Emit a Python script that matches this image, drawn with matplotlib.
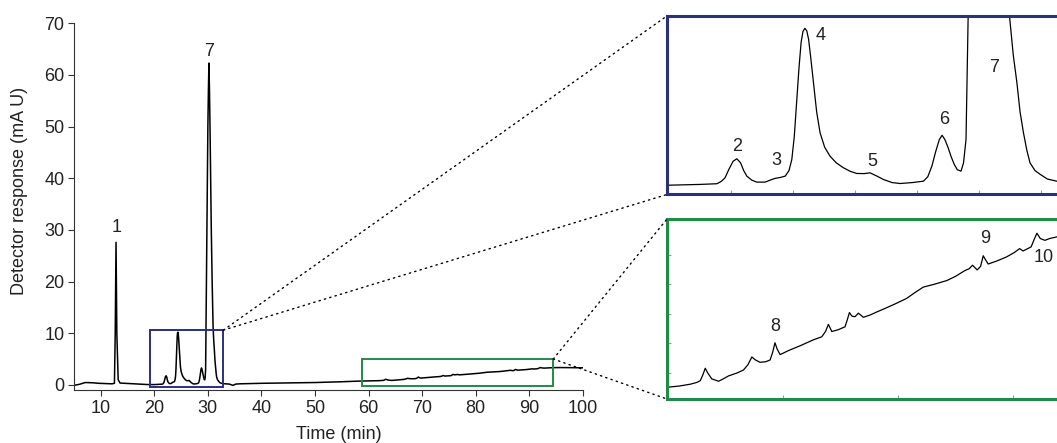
import matplotlib
matplotlib.use('Agg')
import matplotlib.pyplot as plt
from matplotlib.patches import Rectangle, ConnectionPatch

plt.rcParams['font.family'] = ['Liberation Sans', 'DejaVu Sans']
plt.rcParams['font.size'] = 13

# Cromatograma: tiempo (min) y respuesta (mA U)
tiempo = [5.0, 6.0, 7.1, 8.5, 9.6, 11.0, 12.1, 12.55, 12.7, 12.85, 13.0, 13.25, 13.6,
          14.5, 16.5, 18.7, 19.5, 20.0, 21.0, 21.56, 21.7, 21.82, 21.95, 22.08, 22.2,
          22.32, 22.42, 22.52, 22.68, 22.84, 23.11, 23.3, 23.43, 23.6, 23.76, 23.88,
          23.97, 24.05, 24.13, 24.2, 24.27, 24.33, 24.39, 24.45, 24.51, 24.58, 24.67,
          24.77, 24.88, 25.03, 25.2, 25.4, 25.63, 25.85, 26.06, 26.3, 26.49, 26.7,
          26.92, 27.2, 27.46, 27.85, 28.21, 28.35, 28.48, 28.6, 28.72, 28.81, 28.9,
          29.0, 29.1, 29.2, 29.3, 29.42, 29.5, 29.58, 29.65, 29.72, 29.8, 29.9, 30.0,
          30.1, 30.2, 30.3, 30.4, 30.52, 30.64, 30.8, 30.98, 31.1, 31.22, 31.32,
          31.43, 31.54, 31.64, 31.8, 31.97, 32.2, 32.5, 33.0, 34.0, 34.7, 35.2, 36.0,
          40.0, 45.0, 50.0, 55.0, 58.0,
          60.04, 61.0, 61.93, 62.5, 62.8, 63.05, 63.23, 63.45, 63.8, 64.39, 64.8,
          65.26, 66.0, 66.56, 66.95, 67.29, 67.6, 68.0, 68.5, 68.88, 69.1, 69.3,
          69.5, 69.75, 70.5, 71.5, 72.65, 73.37, 73.7, 73.95, 74.25, 74.8, 75.4,
          75.6, 75.78, 76.0, 76.27, 76.56, 77.0, 77.6, 78.16, 79.0, 79.8, 80.77,
          81.5, 82.21, 83.2, 84.25, 85.0, 85.84, 86.2, 86.5, 86.9, 87.2, 87.43,
          87.6, 87.86, 88.6, 89.46, 90.1, 90.6, 90.9, 91.3, 91.6, 91.85, 92.1,
          92.4, 92.8, 93.2, 93.67, 94.5, 96.0, 98.0, 100.0]
respuesta = [-0.1, 0.1, 0.45, 0.4, 0.3, 0.25, 0.2, 0.3, 10.0, 27.6, 10.0, 1.0, 0.35,
             0.3, 0.2, 0.06, 0.05, 0.05, 0.1, 0.145, 0.3, 0.53, 1.1, 1.6, 1.76,
             1.5, 1.0, 0.64, 0.38, 0.25, 0.25, 0.4, 0.49, 0.55, 0.64, 1.0,
             1.71, 3.2, 5.58, 7.6, 9.3, 10.0, 10.2, 10.05, 9.5, 8.3, 6.66,
             4.8, 3.44, 2.5, 1.93, 1.5, 1.18, 0.95, 0.81, 0.8, 0.85, 0.65,
             0.42, 0.22, 0.16, 0.22, 0.31, 0.6, 1.28, 2.2, 3.0, 3.28, 3.0,
             2.5, 1.9, 1.4, 1.05, 0.96, 1.5, 3.0, 11.0, 20.0, 30.0, 40.0, 50.0,
             57.0, 62.3, 57.0, 50.0, 40.0, 30.0, 20.0, 11.0, 8.5, 6.66, 4.8,
             3.44, 2.3, 1.5, 1.0, 0.75, 0.45, 0.31, 0.22, 0.15, -0.1, 0.15, 0.2,
             0.3, 0.38, 0.45, 0.6, 0.72,
             0.76, 0.78, 0.81, 0.84, 0.87, 0.98, 1.08, 1.0, 0.9, 0.86, 0.9,
             0.95, 1.0, 1.05, 1.14, 1.27, 1.22, 1.18, 1.19, 1.22, 1.35, 1.51,
             1.4, 1.31, 1.38, 1.46, 1.56, 1.61, 1.7, 1.82, 1.7, 1.73, 1.78,
             1.9, 2.02, 1.96, 1.95, 2.01, 1.94, 1.98, 2.03, 2.1, 2.17, 2.26,
             2.36, 2.45, 2.5, 2.56, 2.63, 2.73, 2.76, 2.82, 2.74, 2.8, 2.98,
             2.92, 2.84, 2.89, 2.96, 3.03, 3.1, 3.06, 3.1, 3.13, 3.25, 3.36,
             3.27, 3.24, 3.27, 3.29, 3.33, 3.35, 3.33, 3.3]

# Etiquetas de picos (numero, tiempo, altura de la etiqueta)
picos_main = ['1', '7']
picos_main_t = [12.93, 30.24]
picos_main_y = [30.4, 64.5]

picos_azul = ['2', '3', '4', '5', '6', '7']
picos_azul_t = [22.2, 23.46, 24.89, 26.57, 28.88, 30.47]
picos_azul_y = [2.57, 1.68, 9.71, 1.56, 4.29, 7.68]

picos_verde = ['8', '9', '10']
picos_verde_t = [69.3, 87.6, 92.65]
picos_verde_y = [1.78, 3.27, 2.95]

AZUL = '#2b2f7e'
VERDE = '#1e8c45'
GRIS = '#333333'

fig = plt.figure(figsize=(10.57, 4.43), dpi=100)

# Grafico principal
ax = fig.add_axes([0.0700, 0.1196, 0.4813, 0.8278])
ax.plot(tiempo, respuesta, color='black', lw=1.1)
ax.set_xlim(5, 100)
ax.set_ylim(-1, 70)
ax.set_xticks(range(10, 101, 10))
ax.set_yticks(range(0, 71, 10))
for s in ['top', 'right']:
    ax.spines[s].set_visible(False)
for s in ['left', 'bottom']:
    ax.spines[s].set_color(GRIS)
ax.spines['left'].set_bounds(-1, 70)
ax.tick_params(direction='out', length=4, color=GRIS, labelsize=13, pad=3, labelcolor='#222222')
ax.set_xlabel('Time (min)', fontsize=13, color='#222222')
ax.set_ylabel('Detector response (mA U)', fontsize=13, color='#222222')
ax.xaxis.set_label_coords(0.521, -0.098)
ax.yaxis.set_label_coords(-0.090, 0.542)
for lab, t, y in zip(picos_main, picos_main_t, picos_main_y):
    ax.text(t, y, lab, ha='center', va='center', fontsize=13, color='#222222')

# Recuadros de las zonas ampliadas
zona_azul = (19.2, 32.9, -0.5, 10.6)
zona_verde = (58.8, 94.5, -0.3, 5.0)
ax.add_patch(Rectangle((zona_azul[0], zona_azul[2]), zona_azul[1] - zona_azul[0],
                       zona_azul[3] - zona_azul[2], fill=False, ec=AZUL, lw=1.4, zorder=3))
ax.add_patch(Rectangle((zona_verde[0], zona_verde[2]), zona_verde[1] - zona_verde[0],
                       zona_verde[3] - zona_verde[2], fill=False, ec=VERDE, lw=1.4, zorder=3))

# Ampliacion azul
ax1 = fig.add_axes([0.631, 0.561, 0.369, 0.403])
ax1.plot(tiempo, respuesta, color='black', lw=0.9)
ax1.set_xlim(19.95, 32.51)
ax1.set_ylim(-0.55, 11.0)
ax1.set_xticks(range(22, 33, 2))
ax1.set_yticks([])
ax1.tick_params(axis='x', direction='in', length=3, color='#999999', labelbottom=False)
ax1.spines['right'].set_visible(False)
for s in ['left', 'top', 'bottom']:
    ax1.spines[s].set_color(AZUL)
    ax1.spines[s].set_linewidth(2.2)
for lab, t, y in zip(picos_azul, picos_azul_t, picos_azul_y):
    ax1.text(t, y, lab, ha='center', va='center', fontsize=13, color='#222222')

# Ampliacion verde
ax2 = fig.add_axes([0.631, 0.0993, 0.369, 0.4063])
ax2.plot(tiempo, respuesta, color='black', lw=0.9)
ax2.set_xlim(59.9, 93.85)
ax2.set_ylim(0.56, 3.6)
ax2.set_xticks([70, 80, 90])
ax2.set_yticks([1.0, 1.5, 2.0, 2.5, 3.0])
ax2.tick_params(direction='in', length=3, color='#999999', labelbottom=False, labelleft=False)
ax2.spines['right'].set_visible(False)
for s in ['left', 'top', 'bottom']:
    ax2.spines[s].set_color(VERDE)
    ax2.spines[s].set_linewidth(2.2)
for lab, t, y in zip(picos_verde, picos_verde_t, picos_verde_y):
    ax2.text(t, y, lab, ha='center', va='center', fontsize=13, color='#222222')

# Lineas punteadas de conexion
for axi, zona in [(ax1, zona_azul), (ax2, zona_verde)]:
    for esquina in [(0, 1), (0, 0)]:
        con = ConnectionPatch(xyA=(zona[1], zona[3]), coordsA=ax.transData,
                              xyB=esquina, coordsB=axi.transAxes,
                              color='black', lw=1.0, ls=(0, (1, 3)))
        fig.add_artist(con)

fig.savefig('out.png', dpi=100)
